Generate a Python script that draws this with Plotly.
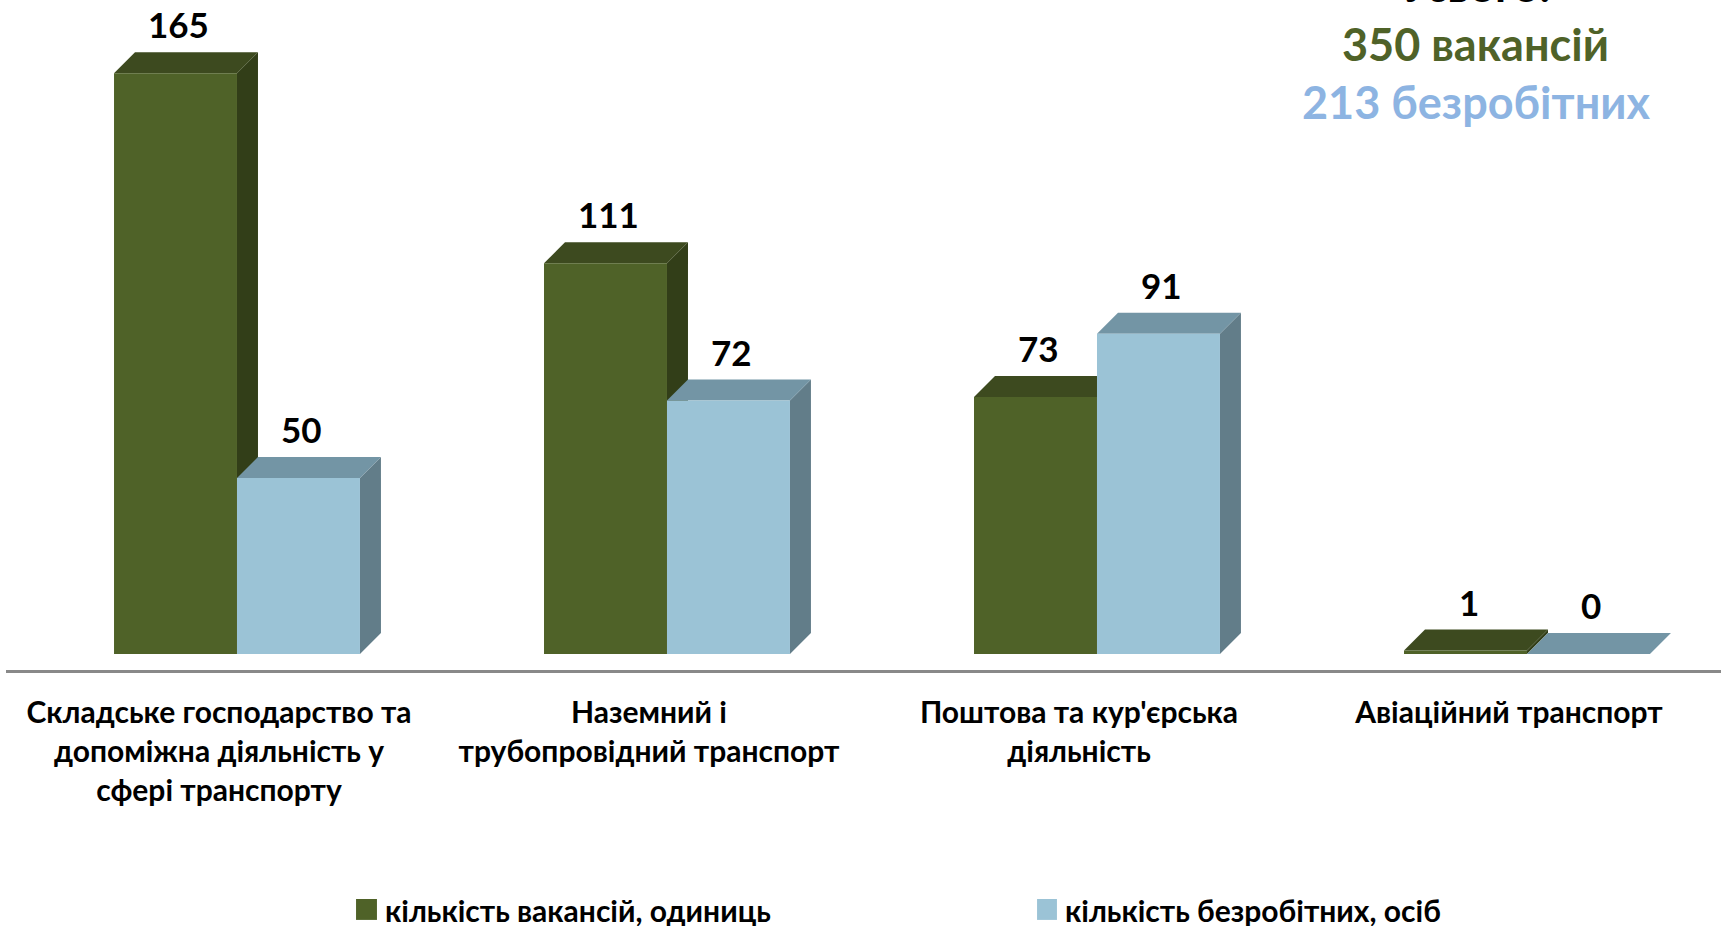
import plotly.graph_objects as go

# дані
categories = [
    "Складське господарство та<br>допоміжна діяльність у<br>сфері транспорту",
    "Наземний і<br>трубопровідний транспорт",
    "Поштова та кур'єрська<br>діяльність",
    "Авіаційний транспорт",
]
vacancies = [165, 111, 73, 1]      # кількість вакансій, одиниць
unemployed = [50, 72, 91, 0]       # кількість безробітних, осіб
series_names = ["кількість вакансій, одиниць", "кількість безробітних, осіб"]

FONT = "Lato"
GREEN = ("#4f6228", "#3d4a1f", "#323e18")   # фронт, верх, бік
BLUE = ("#9bc3d6", "#7395a5", "#627d89")

BAR_W = 0.286   # ширина стовпця в одиницях категорії
DX = 0.0488     # глибина 3D по x
DY = 5.96       # глибина 3D по y

xs = list(range(len(categories)))
fig = go.Figure()

# передні грані
fig.add_trace(go.Bar(x=xs, y=vacancies, width=BAR_W, offset=-BAR_W, name=series_names[0],
                     marker=dict(color=GREEN[0], line_width=0), showlegend=False))
fig.add_trace(go.Bar(x=xs, y=unemployed, width=BAR_W, offset=0, name=series_names[1],
                     marker=dict(color=BLUE[0], line_width=0), showlegend=False))


def faces(x_left, v, colors):
    """верхня і бічна грані псевдо-3D стовпця"""
    xl, xr = x_left, x_left + BAR_W
    top = f"M{xl},{v} L{xl + DX},{v + DY} L{xr + DX},{v + DY} L{xr},{v} Z"
    side = f"M{xr},{0} L{xr + DX},{DY} L{xr + DX},{v + DY} L{xr},{v} Z"
    return [
        dict(type="path", path=side, xref="x", yref="y", fillcolor=colors[2],
             line_width=0, layer="below"),
        dict(type="path", path=top, xref="x", yref="y", fillcolor=colors[1],
             line_width=0, layer="below"),
    ]


shapes = []
for i, v in enumerate(vacancies):
    shapes += faces(i - BAR_W, v, GREEN)
for i, v in enumerate(unemployed):
    shapes += faces(i, v, BLUE)

# підписи значень
annotations = []
for i, (a, b) in enumerate(zip(vacancies, unemployed)):
    for xc, v in [(i - BAR_W / 2, a), (i + BAR_W / 2, b)]:
        annotations.append(dict(x=xc, y=v + DY, xref="x", yref="y", text=f"<b>{v}</b>",
                                showarrow=False, yanchor="bottom", xshift=3, yshift=5,
                                font=dict(family=FONT, size=35, color="black")))

# підсумок
annotations += [
    dict(x=0.857, y=1.022, xref="paper", yref="paper", text="<b>Усього:</b>", showarrow=False,
         xanchor="center", yanchor="middle", font=dict(family=FONT, size=45, color="black")),
    dict(x=0.857, y=0.934, xref="paper", yref="paper", text=f"<b>{sum(vacancies)} вакансій</b>",
         showarrow=False, xanchor="center", yanchor="middle",
         font=dict(family=FONT, size=45, color="#4f6228")),
    dict(x=0.857, y=0.8485, xref="paper", yref="paper",
         text=f"<b>{sum(unemployed)} безробітних</b>", xanchor="center", yanchor="middle",
         showarrow=False, font=dict(family=FONT, size=45, color="#8db4e2")),
]

# легенда вручну (квадрати + текст)
for (sx0, sx1, tx), name, col in [((0.2041, 0.2163, 0.2198), series_names[0], GREEN[0]),
                                   ((0.6012, 0.6128, 0.6163), series_names[1], BLUE[0])]:
    shapes.append(dict(type="rect", xref="paper", yref="paper", x0=sx0, x1=sx1,
                       y0=-0.373, y1=-0.3418, fillcolor=col, line_width=0))
    annotations.append(dict(x=tx, y=-0.358, xref="paper", yref="paper", text=f"<b>{name}</b>",
                            xanchor="left", yanchor="middle", showarrow=False,
                            font=dict(family=FONT, size=30, color="black")))

fig.update_layout(
    width=1721, height=926,
    margin=dict(l=6, r=0, t=0, b=256),
    plot_bgcolor="white", paper_bgcolor="white",
    showlegend=False, shapes=shapes, annotations=annotations,
    xaxis=dict(range=[-0.5372, 3.4512], tickvals=xs, ticktext=[f"<b>{c}</b>" for c in categories],
               showline=True, linecolor="#898989", linewidth=3, showgrid=False, zeroline=False,
               ticks="", ticklabelshift=-18, ticklabelstandoff=14,
               tickfont=dict(family=FONT, size=30, color="black")),
    yaxis=dict(range=[-4.545, 185.8], visible=False, showgrid=False, zeroline=False),
)

# прибираємо стандартний відступ body, щоб фігура стала у кут вікна
fig.write_html("out.html", config={"displayModeBar": False},
               post_script="document.body.style.margin='0';")
